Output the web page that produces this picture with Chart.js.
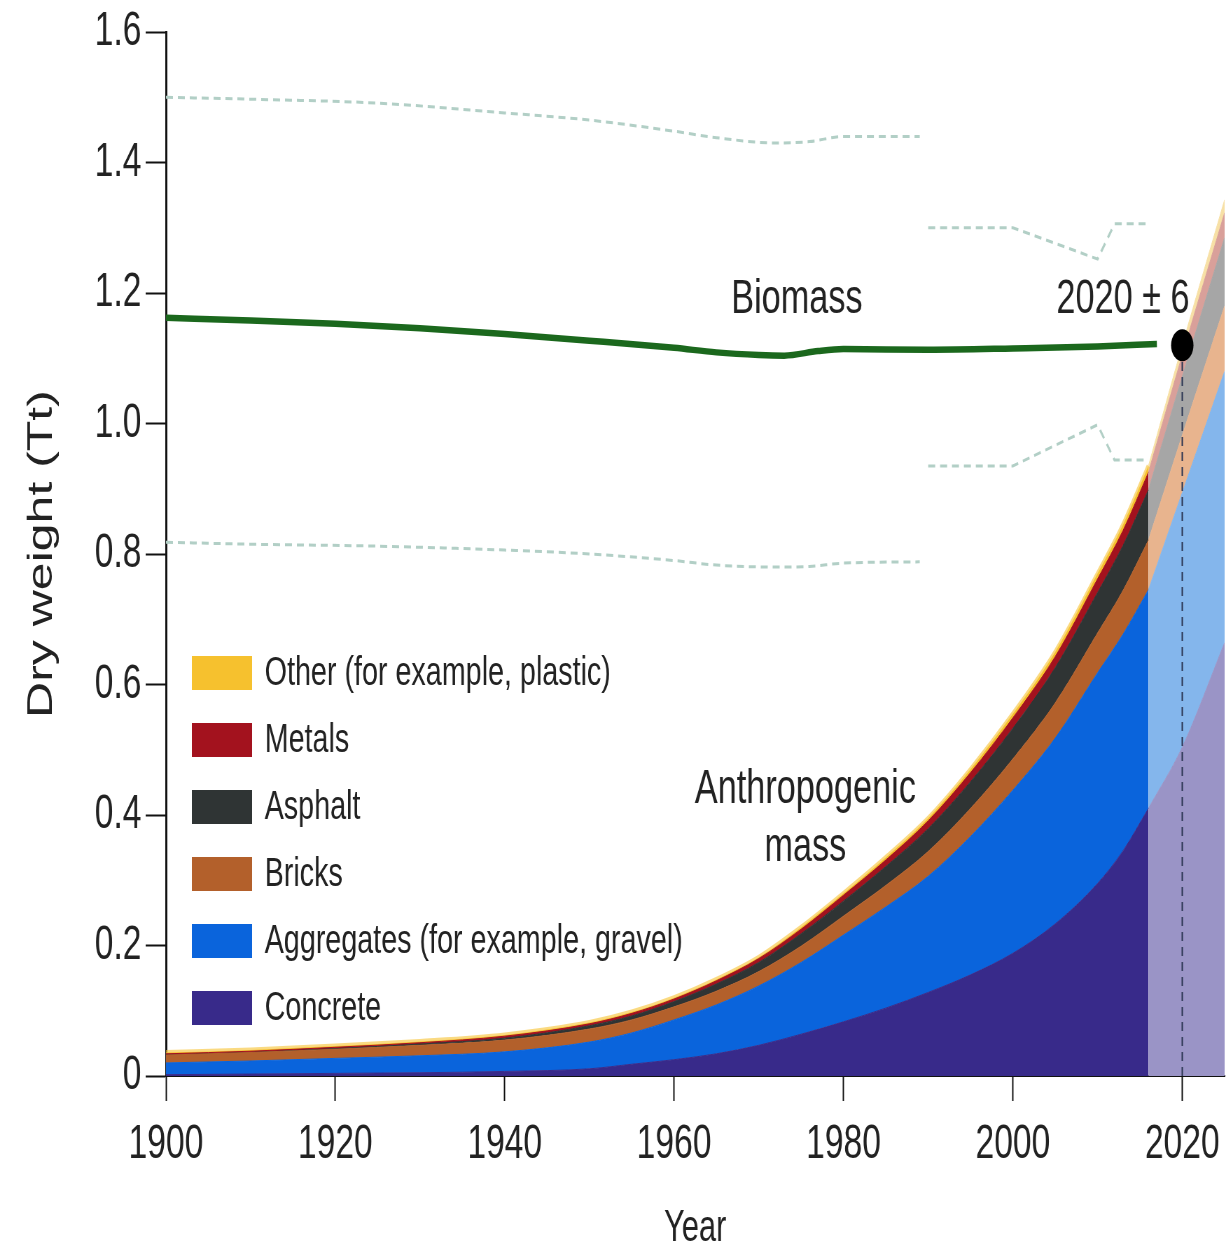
<!DOCTYPE html>
<html>
<head>
<meta charset="utf-8">
<title>Anthropogenic mass and biomass</title>
<script src="https://cdn.jsdelivr.net/npm/chart.js@4.4.1/dist/chart.umd.min.js"></script>
<style>
  html, body { margin: 0; padding: 0; background: #fff; }
  #chart { display: block; }
</style>
</head>
<body>
<!-- The drawing surface is wider than its box, so all lettering and marks come out condensed horizontally -->
<canvas id="chart" width="1751" height="1251" style="width:1226px;height:1251px"></canvas>
<script>
// ---- Data (Tt, dry weight) ----
const years = [1900, 1910, 1920, 1930, 1940, 1950, 1955, 1960, 1965, 1970, 1975, 1980, 1985, 1990, 1995, 2000, 2005, 2010, 2013, 2016];
const concrete   = [0.002, 0.003, 0.004, 0.005, 0.007, 0.011, 0.018, 0.025, 0.034, 0.047, 0.064, 0.083, 0.104, 0.128, 0.155, 0.188, 0.233, 0.295, 0.345, 0.410];
const aggregates = [0.018, 0.020, 0.023, 0.026, 0.030, 0.041, 0.048, 0.061, 0.075, 0.091, 0.110, 0.133, 0.155, 0.178, 0.212, 0.250, 0.285, 0.323, 0.332, 0.335];
const bricks     = [0.012, 0.013, 0.014, 0.016, 0.018, 0.020, 0.020, 0.020, 0.021, 0.022, 0.025, 0.029, 0.033, 0.038, 0.043, 0.048, 0.054, 0.061, 0.067, 0.076];
const asphalt    = [0.000, 0.000, 0.001, 0.002, 0.003, 0.005, 0.006, 0.008, 0.011, 0.014, 0.019, 0.023, 0.029, 0.035, 0.041, 0.047, 0.054, 0.062, 0.069, 0.077];
const metals     = [0.002, 0.002, 0.002, 0.002, 0.003, 0.003, 0.004, 0.004, 0.005, 0.006, 0.007, 0.009, 0.010, 0.012, 0.014, 0.016, 0.017, 0.021, 0.023, 0.027];
const other      = [0.002, 0.002, 0.002, 0.002, 0.002, 0.002, 0.002, 0.002, 0.002, 0.002, 0.003, 0.003, 0.004, 0.004, 0.005, 0.006, 0.007, 0.008, 0.009, 0.010];

// Projected stocks
const projYears = [2016, 2020, 2025];
const projConcrete   = [0.410, 0.504, 0.664];
const projAggregates = [0.335, 0.390, 0.416];
const projBricks     = [0.076, 0.088, 0.100];
const projAsphalt    = [0.077, 0.090, 0.105];
const projMetals     = [0.027, 0.033, 0.038];
const projOther      = [0.010, 0.015, 0.020];

// Global biomass (dry weight) and its uncertainty range
const biomassYears = [1900, 1910, 1920, 1930, 1940, 1950, 1960, 1965, 1970, 1973, 1977, 1980, 1990, 2000, 2010, 2017];
const biomass      = [1.162, 1.158, 1.153, 1.146, 1.137, 1.127, 1.116, 1.109, 1.105, 1.104, 1.111, 1.114, 1.113, 1.115, 1.118, 1.122];
const rangeYearsEarly = [1900, 1910, 1925, 1940, 1950, 1960, 1965, 1972, 1976, 1980, 1989];
const upperEarly      = [1.500, 1.497, 1.491, 1.476, 1.465, 1.448, 1.438, 1.430, 1.432, 1.440, 1.440];
const lowerEarly      = [0.818, 0.815, 0.812, 0.806, 0.800, 0.790, 0.783, 0.780, 0.781, 0.786, 0.788];
const rangeYearsLate  = [1990, 2000, 2010, 2012, 2016];
const upperLate       = [1.300, 1.300, 1.252, 1.306, 1.306];
const lowerLate       = [0.935, 0.935, 0.998, 0.944, 0.944];

// Crossover point
const crossoverYear = 2020;
const crossoverValue = 1.12;

// Axis ticks
const xTicks = [1900, 1920, 1940, 1960, 1980, 2000, 2020];
const yTicks = [0, 0.2, 0.4, 0.6, 0.8, 1.0, 1.2, 1.4, 1.6];

// Layer names, bottom to top
const layerNames = ['Concrete', 'Aggregates (for example, gravel)', 'Bricks', 'Asphalt', 'Metals', 'Other (for example, plastic)'];

// ---- Styling ----
const FONT = "'Liberation Sans', Arial, Helvetica, sans-serif";
const solidColors = ['#382a8a', '#0a64dc', '#b3602b', '#2f3434', '#a3121e', '#f6c12e'];
const paleColors  = ['#9a94c6', '#84b6ec', '#e8b48e', '#a6a6a6', '#d9a09a', '#f7e0a6'];

const toPoints = (xs, ys) => xs.map((x, i) => ({ x, y: ys[i] }));

const histSeries = [concrete, aggregates, bricks, asphalt, metals, other];
const projSeries = [projConcrete, projAggregates, projBricks, projAsphalt, projMetals, projOther];

const lineDefaults = { pointRadius: 0, cubicInterpolationMode: 'monotone' };

const datasets = [];

// Biomass, range and crossover marks (drawn on top, so listed first)
datasets.push({ ...lineDefaults, label: 'Biomass', stack: 'bio', data: toPoints(biomassYears, biomass),
  borderColor: '#1b681d', borderWidth: 6.5, fill: false });
const rangeStyle = { ...lineDefaults, borderColor: '#b2cfc6', borderWidth: 3, borderDash: [10, 7], fill: false };
datasets.push({ ...rangeStyle, label: 'upper1', stack: 'u1', data: toPoints(rangeYearsEarly, upperEarly) });
datasets.push({ ...rangeStyle, label: 'lower1', stack: 'l1', data: toPoints(rangeYearsEarly, lowerEarly) });
datasets.push({ ...rangeStyle, label: 'upper2', stack: 'u2', data: toPoints(rangeYearsLate, upperLate), cubicInterpolationMode: 'default', tension: 0 });
datasets.push({ ...rangeStyle, label: 'lower2', stack: 'l2', data: toPoints(rangeYearsLate, lowerLate), cubicInterpolationMode: 'default', tension: 0 });
datasets.push({ label: 'crossover', stack: 'cx', data: [{ x: crossoverYear, y: crossoverValue }],
  showLine: false, pointRadius: 16, pointBackgroundColor: '#000', pointBorderWidth: 0 });
datasets.push({ label: 'crossoverLine', stack: 'cl', data: [{ x: crossoverYear, y: 0 }, { x: crossoverYear, y: crossoverValue }],
  pointRadius: 0, borderColor: '#2b3552', borderWidth: 2, borderDash: [9, 6], fill: false });

// Stacked stocks up to the latest estimate; the top layer gets a soft yellow edge
histSeries.forEach((vals, i) => {
  const top = i === histSeries.length - 1;
  datasets.push({ ...lineDefaults, label: layerNames[i], stack: 'hist', data: toPoints(years, vals),
    backgroundColor: solidColors[i], borderColor: top ? 'rgba(246,193,46,0.6)' : solidColors[i], borderWidth: top ? 5 : 1,
    fill: i === 0 ? 'origin' : '-1' });
});
// Projected stocks
projSeries.forEach((vals, i) => {
  datasets.push({ ...lineDefaults, label: layerNames[i] + ' (projected)', stack: 'proj', data: toPoints(projYears, vals),
    backgroundColor: paleColors[i], borderColor: paleColors[i], borderWidth: 1,
    fill: i === 0 ? 'origin' : '-1' });
});

// ---- Text labels and legend drawn over the plot ----
const notes = [
  { text: 'Biomass', year: 1974.5, value: 1.169 },
  { text: '2020 \u00b1 6', year: 2013.0, value: 1.169 },
  { text: 'Anthropogenic', year: 1975.5, value: 0.418 },
  { text: 'mass', year: 1975.5, value: 0.329 }
];

const overlay = {
  id: 'overlay',
  afterDatasetsDraw(chart) {
    const { ctx, chartArea, scales } = chart;
    const x = scales.x, y = scales.y;
    ctx.save();
    ctx.fillStyle = '#222';
    ctx.font = `49px ${FONT}`;
    ctx.textAlign = 'center';
    ctx.textBaseline = 'alphabetic';
    notes.forEach(n => ctx.fillText(n.text, x.getPixelForValue(n.year), y.getPixelForValue(n.value)));

    // Legend, Concrete at the bottom
    ctx.font = `41px ${FONT}`;
    ctx.textAlign = 'left';
    ctx.textBaseline = 'middle';
    layerNames.forEach((name, i) => {
      const cy = chartArea.bottom - 68 - i * 67;
      ctx.fillStyle = solidColors[i];
      ctx.fillRect(chartArea.left + 37, cy - 17, 86, 34);
      ctx.fillStyle = '#222';
      ctx.fillText(name, chartArea.left + 141, cy + 1);
    });
    ctx.restore();
  }
};

new Chart(document.getElementById('chart'), {
  type: 'line',
  data: { datasets },
  plugins: [overlay],
  options: {
    responsive: false,
    devicePixelRatio: 1,
    animation: false,
    events: [],
    layout: { autoPadding: false, padding: { left: 0, right: 2, top: 32, bottom: 0 } },
    plugins: { legend: { display: false }, tooltip: { enabled: false } },
    scales: {
      x: {
        type: 'linear',
        min: 1900,
        max: 2025,
        afterFit(scale) { scale.height = 175; scale.paddingLeft = 0; scale.paddingRight = 0; },
        afterBuildTicks(scale) { scale.ticks = xTicks.map(v => ({ value: v })); },
        ticks: { color: '#222', font: { family: FONT, size: 48, lineHeight: 1 }, padding: 20, maxRotation: 0, autoSkip: false,
          callback: v => String(v) },
        grid: { drawOnChartArea: false, drawTicks: true, tickLength: 25, tickWidth: 2, tickColor: '#111' },
        border: { display: true, color: '#111', width: 2 },
        title: { display: true, text: 'Year', color: '#222', font: { family: FONT, size: 44, lineHeight: 1 }, padding: { top: 0, bottom: 0 } }
      },
      y: {
        type: 'linear',
        stacked: true,
        min: 0,
        max: 1.6,
        afterFit(scale) { scale.width = 237; scale.paddingTop = 0; scale.paddingBottom = 0; },
        afterBuildTicks(scale) { scale.ticks = yTicks.map(v => ({ value: v })); },
        ticks: { color: '#222', font: { family: FONT, size: 48, lineHeight: 1 }, padding: 6,
          callback: v => (v === 0 ? '0' : Number(v).toFixed(1)) },
        grid: { drawOnChartArea: false, drawTicks: true, tickLength: 29, tickWidth: 2, tickColor: '#111' },
        border: { display: true, color: '#111', width: 3 },
        title: { display: true, text: 'Dry weight (Tt)', color: '#222', font: { family: FONT, size: 50, lineHeight: 1 }, padding: { top: 35, bottom: 0 } }
      }
    }
  }
});
</script>
</body>
</html>
